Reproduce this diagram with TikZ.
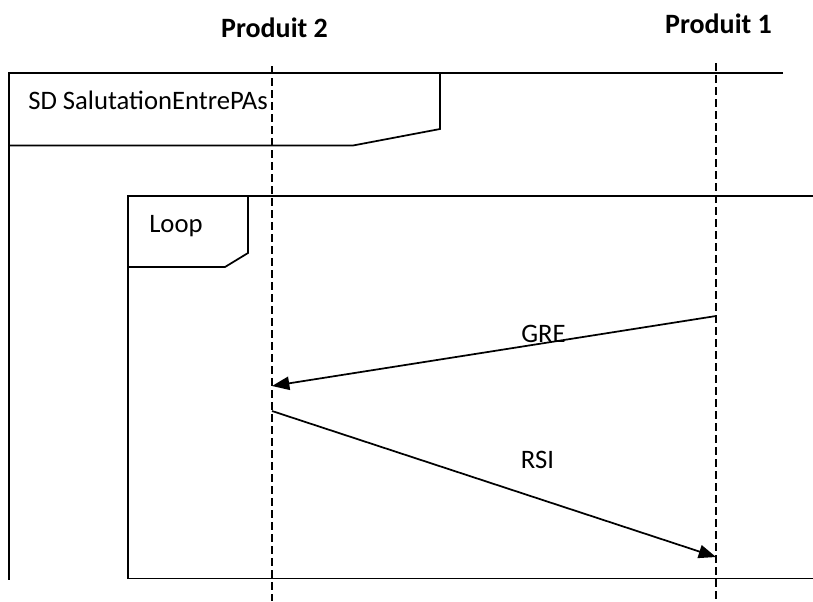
\documentclass[tikz,border=0pt]{standalone}
\usepackage{fontspec}
\setmainfont{Carlito}
\usetikzlibrary{arrows.meta}
\begin{document}
\begin{tikzpicture}[x=0.75pt,y=-0.75pt,
  frameline/.style={line width=1.3pt,line join=miter},
  lifeline/.style={line width=1.1pt,dash pattern=on 6pt off 3pt},
  msg/.style={line width=1.3pt,-{Triangle[length=13pt,width=10pt]}},
  head/.style={font=\fontsize{21}{24}\selectfont\bfseries,anchor=base,inner sep=0pt},
  lbl/.style={font=\fontsize{20}{24}\selectfont,anchor=base,inner sep=0pt},
  lbll/.style={font=\fontsize{20}{24}\selectfont,anchor=base west,inner sep=0pt}]
\useasboundingbox (0,0) rectangle (813,601);
% lifeline heads
\node[head] (p2) at (274.5,37) {Produit 2};
\node[head] (p1) at (718.5,33) {Produit 1};
% lifelines
\coordinate (l2top) at (272,66);
\coordinate (l2bot) at (272,601);
\coordinate (l1top) at (716,63);
\coordinate (l1bot) at (716,601);
\draw[lifeline] (l2top) -- (l2bot);
\draw[lifeline] (l1top) -- (l1bot);
% outer SD frame
\draw[frameline] (783,73) -- (9,73) -- (9,580);
\draw[frameline] (440,73) -- (440,129) -- (353,145.5) -- (9,145.5);
\node[lbll] (sd) at (28,109) {SD SalutationEntrePAs};
% loop frame
\draw[frameline] (813,196) -- (128,196) -- (128,578.5) -- (813,578.5);
\draw[frameline] (248,196) -- (248,253) -- (225,267) -- (128,267);
\node[lbll] (loop) at (149,232) {Loop};
% messages
\coordinate (gs) at (716,316);
\coordinate (ge) at (272,386);
\coordinate (rs) at (272,411);
\coordinate (re) at (716,557);
\draw[msg] (gs) -- (ge);
\draw[msg] (rs) -- (re);
\node[lbl] (gre) at (543.5,342) {GRE};
\node[lbl] (rsi) at (537.5,468) {RSI};
\end{tikzpicture}
\end{document}
